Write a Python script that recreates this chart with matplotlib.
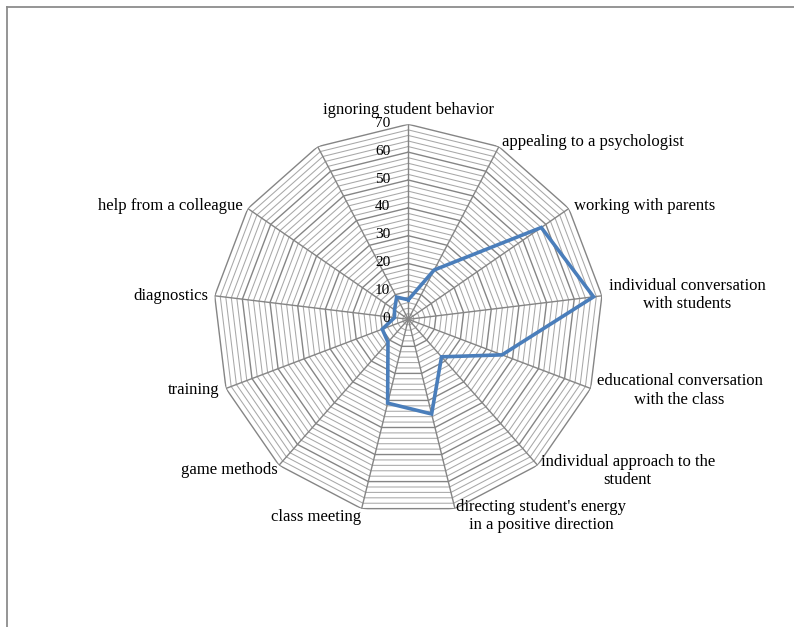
import numpy as np
import matplotlib
matplotlib.use("Agg")
import matplotlib.pyplot as plt
from matplotlib.lines import Line2D

# datos del gráfico (13 ejes, uno sin etiqueta)
categorias = [
    "ignoring student behavior",
    "appealing to a psychologist",
    "working with parents",
    "individual conversation\nwith students",
    "educational conversation\nwith the class",
    "individual approach to the\nstudent",
    "directing student's energy\nin a positive direction",
    "class meeting",
    "game methods",
    "training",
    "diagnostics",
    "help from a colleague",
    "",
]
valores = [7, 20, 58, 67, 36, 18, 35, 31, 11, 10, 5, 6, 9]
ticks = [0, 10, 20, 30, 40, 50, 60, 70]
r_max = 70
paso_menor = 2

# posicion de las etiquetas (dx, dy en pixeles, ha, va)
etiquetas_pos = [
    (0, 6, "center", "bottom"),
    (3, 5, "left", "center"),
    (5, 3, "left", "center"),
    (7, 1, "left", "center"),
    (6, -2, "left", "center"),
    (3, -6, "left", "center"),
    (1, 10, "left", "top"),
    (-1, -8, "right", "center"),
    (-1, -5, "right", "center"),
    (-6, -2, "right", "center"),
    (-6, 0, "right", "center"),
    (-5, 3, "right", "center"),
    (0, 0, "right", "center"),
]

plt.rcParams["font.family"] = ["Liberation Serif", "DejaVu Serif"]

W, H = 794, 627
fig = plt.figure(figsize=(W / 100, H / 100), dpi=100)

cx, cy, R = 408.3, 319.3, 195.0
ax = fig.add_axes([(cx - R) / W, 1 - (cy + R) / H, 2 * R / W, 2 * R / H],
                  projection="polar")
ax.set_theta_zero_location("N")
ax.set_theta_direction(-1)
ax.set_ylim(0, r_max)
ax.axis("off")

n = len(categorias)
angulos = np.linspace(0, 2 * np.pi, n, endpoint=False)
ang_cerrado = np.append(angulos, angulos[0])

# anillos de la rejilla
for r in range(paso_menor, r_max + 1, paso_menor):
    if r % 10 == 0:
        ax.plot(ang_cerrado, [r] * (n + 1), color="#858585", lw=1.0, zorder=2)
    else:
        ax.plot(ang_cerrado, [r] * (n + 1), color="#a8a8a8", lw=0.75, zorder=1)

# radios
for a in angulos:
    ax.plot([a, a], [0, r_max], color="#858585", lw=1.0, zorder=2)

# serie
val_cerrado = valores + [valores[0]]
ax.plot(ang_cerrado, val_cerrado, color="#4a7ebb", lw=2.6, zorder=5,
        solid_joinstyle="miter")

# etiquetas del eje radial
for t in ticks:
    ax.annotate(str(t), xy=(0, t), xytext=(-18, 1), textcoords="offset pixels",
                ha="right", va="center", fontsize=11, color="black", zorder=6)

# etiquetas de categorias
for i, txt in enumerate(categorias):
    dx, dy, ha, va = etiquetas_pos[i]
    ax.annotate(txt, xy=(angulos[i], r_max), xytext=(dx, dy),
                textcoords="offset pixels", ha=ha, va=va,
                multialignment="center", fontsize=12, color="black",
                annotation_clip=False)

# marco
x0, y0 = 6.5 / W, 1 - 6.5 / H
fig.add_artist(Line2D([x0, x0], [0, y0], transform=fig.transFigure,
                      color="#8c8c8c", lw=1.3))
fig.add_artist(Line2D([x0, 1], [y0, y0], transform=fig.transFigure,
                      color="#8c8c8c", lw=1.3))

fig.savefig("out.png", dpi=100, facecolor="white")
